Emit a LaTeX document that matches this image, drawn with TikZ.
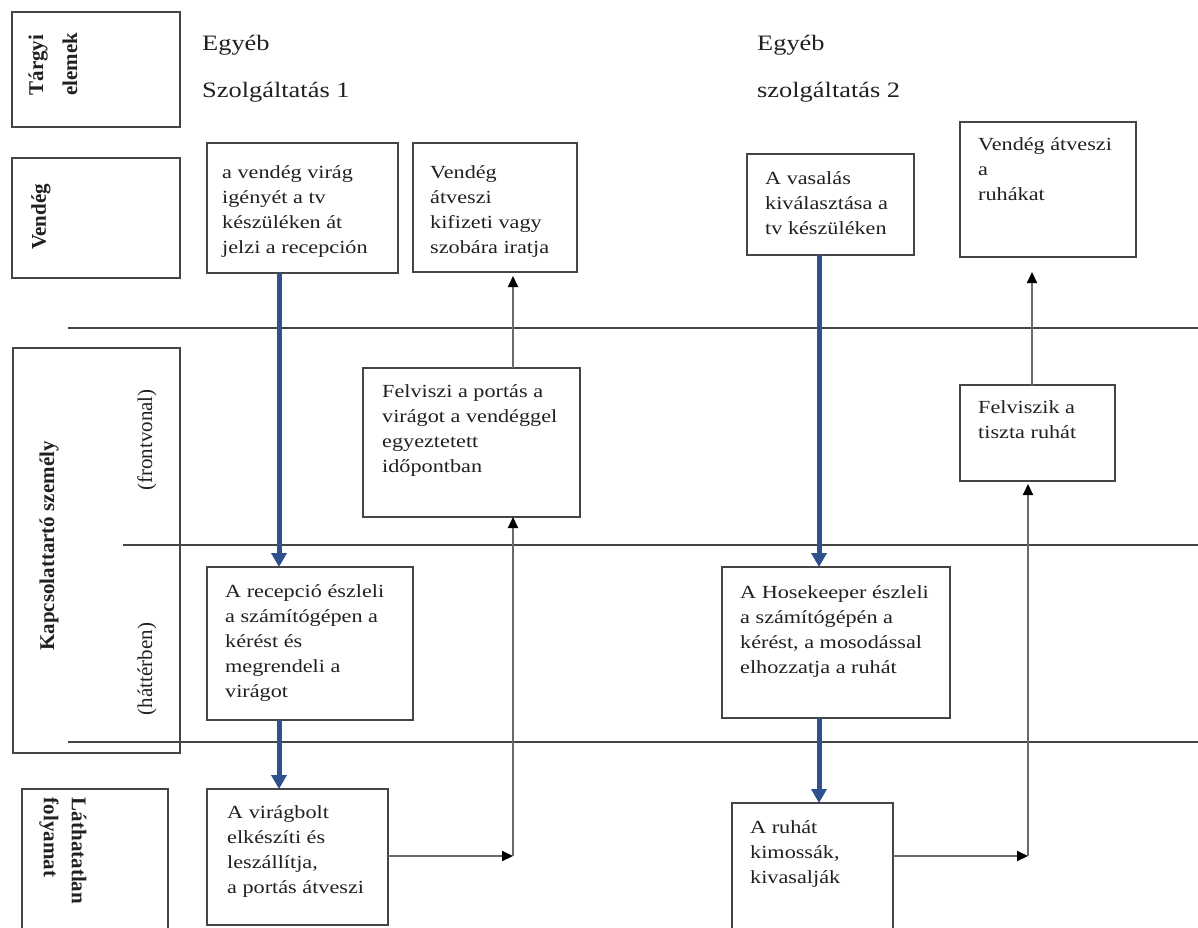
\documentclass[tikz,border=0pt]{standalone}
\usepackage{fontspec}
\setmainfont{Liberation Serif}
\newfontfamily\boxfont{Liberation Serif}[FakeStretch=1.2]
\usetikzlibrary{arrows.meta}
\definecolor{ink}{HTML}{202020}
\definecolor{rule}{HTML}{454545}
\definecolor{flow}{HTML}{2F528F}
\definecolor{conngray}{HTML}{6A6A6A}

\begin{document}
\begin{tikzpicture}[x=1pt,y=-1pt,
  stepbox/.style={draw=rule, line width=1.8pt, inner sep=0pt, outer sep=0pt, anchor=north west},
  boxtext/.style={anchor=north west, inner sep=0pt, align=left, text=ink,
    font=\boxfont\fontsize{18.5}{25}\selectfont},
  headtext/.style={anchor=base west, inner sep=0pt, text=ink,
    font=\boxfont\fontsize{22}{26}\selectfont},
  lanelabel/.style={inner sep=0pt, text=ink, font=\bfseries\fontsize{21}{34}\selectfont},
  sublabel/.style={inner sep=0pt, text=ink, font=\fontsize{21}{25}\selectfont},
  divider/.style={draw=rule, line width=1.8pt},
  flowarrow/.style={draw=flow, line width=5pt, -{Triangle[width=15pt,length=14pt]}},
  conn/.style={draw=conngray, line width=2pt, -{Triangle[width=10pt,length=11pt,color=black]}},
]
\clip (0,0) rectangle (1198,927);
\fill[white] (0,0) rectangle (1198,927);

% lane label frames
\node[stepbox, minimum width=168pt, minimum height=115pt] (ftargy) at (12,12) {};
\node[stepbox, minimum width=168pt, minimum height=120pt] (fvendeg) at (12,158) {};
\node[stepbox, minimum width=167pt, minimum height=405pt] (fkapcs) at (13,348) {};
\node[stepbox, minimum width=146pt, minimum height=160pt] (flath) at (22,789) {};

% lane labels
\node[lanelabel, rotate=90, align=left] (ltargy) at (53,64) {Tárgyi\\elemek};
\node[lanelabel, rotate=90] (lvendeg) at (41,217) {Vendég};
\node[lanelabel, rotate=90] (lkapcs) at (49,546) {Kapcsolattartó személy};
\node[sublabel, rotate=90] (lfront) at (147,440) {(frontvonal)};
\node[sublabel, rotate=90] (lhatter) at (147,669) {(háttérben)};
\node[lanelabel, rotate=-90, align=left, font=\bfseries\fontsize{21}{28}\selectfont] (llath) at (63,851) {Láthatatlan\\folyamat};

% lane dividers
\draw[divider] (68,328) -- (1198,328);
\draw[divider] (123,545) -- (1198,545);
\draw[divider] (68,742) -- (1198,742);

% column headings
\node[headtext] (h1a) at (202,50) {Egyéb};
\node[headtext] (h1b) at (202,97) {Szolgáltatás 1};
\node[headtext] (h2a) at (757,50) {Egyéb};
\node[headtext] (h2b) at (757,97) {szolgáltatás 2};

% process steps
\node[stepbox, minimum width=191pt, minimum height=130pt] (b1) at (207,143) {};
\node[boxtext] (t1) at (222,160.5) {\strut a vendég virág\\igényét a tv\\készüléken át\\jelzi a recepción};

\node[stepbox, minimum width=164pt, minimum height=129pt] (b2) at (413,143) {};
\node[boxtext] (t2) at (430,160.5) {\strut Vendég\\átveszi\\kifizeti vagy\\szobára iratja};

\node[stepbox, minimum width=167pt, minimum height=101pt] (b3) at (747,154) {};
\node[boxtext] (t3) at (765,166.5) {\strut A vasalás\\kiválasztása a\\tv készüléken};

\node[stepbox, minimum width=176pt, minimum height=135pt] (b4) at (960,122) {};
\node[boxtext] (t4) at (978,132.5) {\strut Vendég átveszi\\a\\ruhákat};

\node[stepbox, minimum width=217pt, minimum height=149pt] (b5) at (363,368) {};
\node[boxtext] (t5) at (382,379.5) {\strut Felviszi a portás a\\virágot a vendéggel\\egyeztetett\\időpontban};

\node[stepbox, minimum width=155pt, minimum height=96pt] (b6) at (960,385) {};
\node[boxtext] (t6) at (978,395.5) {\strut Felviszik a\\tiszta ruhát};

\node[stepbox, minimum width=206pt, minimum height=153pt] (b7) at (207,567) {};
\node[boxtext] (t7) at (225,579.5) {\strut A recepció észleli\\a számítógépen a\\kérést és\\megrendeli a\\virágot};

\node[stepbox, minimum width=228pt, minimum height=151pt] (b8) at (722,567) {};
\node[boxtext] (t8) at (740,580.5) {\strut A Hosekeeper észleli\\a számítógépén a\\kérést, a mosodással\\elhozzatja a ruhát};

\node[stepbox, minimum width=181pt, minimum height=136pt] (b9) at (207,789) {};
\node[boxtext] (t9) at (227,800.5) {\strut A virágbolt\\elkészíti és\\leszállítja,\\a portás átveszi};

\node[stepbox, minimum width=161pt, minimum height=140pt] (b10) at (732,803) {};
\node[boxtext] (t10) at (750,815.5) {\strut A ruhát\\kimossák,\\kivasalják};

% main flow (blue)
\coordinate (fx1) at (279,0);
\coordinate (fx2) at (819,0);
\draw[flowarrow] (b1.south -| fx1) -- (b7.north -| fx1);
\draw[flowarrow] (b7.south -| fx1) -- (b9.north -| fx1);
\draw[flowarrow] (b3.south -| fx2) -- (b8.north -| fx2);
\draw[flowarrow] (b8.south -| fx2) -- (b10.north -| fx2);

% return paths
\coordinate (k1) at (513,856);
\coordinate (k2) at (1028,856);
\coordinate (k3) at (1032,0);
\draw[conn] (b9.east |- k1) -- (k1);
\draw[conn] (k1) -- (k1 |- b5.south);
\draw[conn, shorten >=4pt] (k1 |- b5.north) -- (k1 |- b2.south);
\draw[conn] (b10.east |- k2) -- (k2);
\draw[conn, shorten >=3pt] (k2) -- (k2 |- b6.south);
\draw[conn, shorten >=15pt] (b6.north -| k3) -- (b4.south -| k3);
\end{tikzpicture}
\end{document}
